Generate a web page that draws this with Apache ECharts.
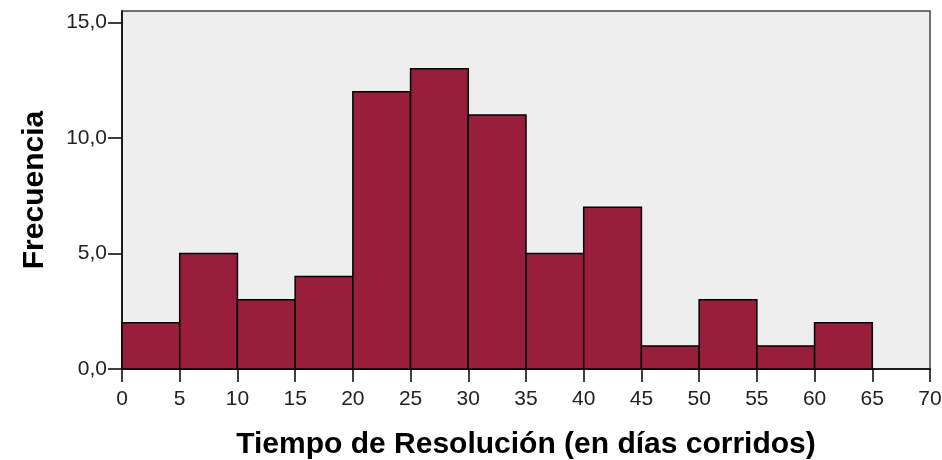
<!DOCTYPE html>
<html>
<head>
<meta charset="utf-8">
<script src="https://cdn.jsdelivr.net/npm/echarts@6/dist/echarts.min.js"></script>
<style>html,body{margin:0;padding:0;background:#fff}#c{width:942px;height:460px}</style>
</head>
<body>
<div id="c"></div>
<script>
// Histogram bins (lower edges, in days) and frequencies
var binStarts = [0, 5, 10, 15, 20, 25, 30, 35, 40, 45, 50, 55, 60];
var binWidth = 5;
var frequencies = [2, 5, 3, 4, 12, 13, 11, 5, 7, 1, 3, 1, 2];
var yTicks = [0, 5, 10, 15];
var xTicks = [0, 5, 10, 15, 20, 25, 30, 35, 40, 45, 50, 55, 60, 65, 70];
var xTitle = 'Tiempo de Resolución (en días corridos)';
var yTitle = 'Frecuencia';

var data = binStarts.map(function (s, i) { return [s, s + binWidth, frequencies[i]]; });

var chart = echarts.init(document.getElementById('c'), null, { renderer: 'canvas' });
var font = '"Liberation Sans", Arial, sans-serif';
chart.setOption({
  animation: false,
  grid: {
    left: 122, right: 12, top: 11, bottom: 91,
    containLabel: false, outerBoundsMode: 'none',
    show: true, backgroundColor: '#EEEEEE', borderColor: '#444', borderWidth: 1.5
  },
  xAxis: {
    type: 'value', min: 0, max: 70, interval: 5,
    name: xTitle, nameLocation: 'middle', nameGap: 61,
    nameTextStyle: { fontFamily: font, fontSize: 30, fontWeight: 'bold', color: '#000' },
    axisLine: { show: true, onZero: false, lineStyle: { color: '#000', width: 1.5 } },
    axisTick: { show: true, length: 13, lineStyle: { color: '#000', width: 1.5 }, customValues: xTicks },
    axisLabel: { fontFamily: font, fontSize: 21, color: '#222', margin: 20, customValues: xTicks },
    splitLine: { show: false }
  },
  yAxis: {
    type: 'value', min: 0, max: 15.5,
    name: yTitle, nameLocation: 'middle', nameGap: 72, nameRotate: 90,
    nameTextStyle: { fontFamily: font, fontSize: 30, fontWeight: 'bold', color: '#000' },
    axisLine: { show: true, lineStyle: { color: '#000', width: 1.5 } },
    axisTick: { show: true, length: 14, lineStyle: { color: '#000', width: 1.5 }, customValues: yTicks },
    axisLabel: {
      fontFamily: font, fontSize: 21, color: '#222', margin: 15, customValues: yTicks,
      formatter: function (v) { return v.toFixed(1).replace('.', ','); }
    },
    splitLine: { show: false }
  },
  series: [{
    type: 'custom',
    data: data,
    encode: { x: [0, 1], y: 2 },
    renderItem: function (params, api) {
      var p0 = api.coord([api.value(0), 0]);
      var p1 = api.coord([api.value(1), api.value(2)]);
      return {
        type: 'rect',
        shape: { x: p0[0], y: p1[1], width: p1[0] - p0[0], height: p0[1] - p1[1] },
        style: { fill: '#991E3C', stroke: '#000', lineWidth: 1.5 }
      };
    }
  }]
});
</script>
</body>
</html>
